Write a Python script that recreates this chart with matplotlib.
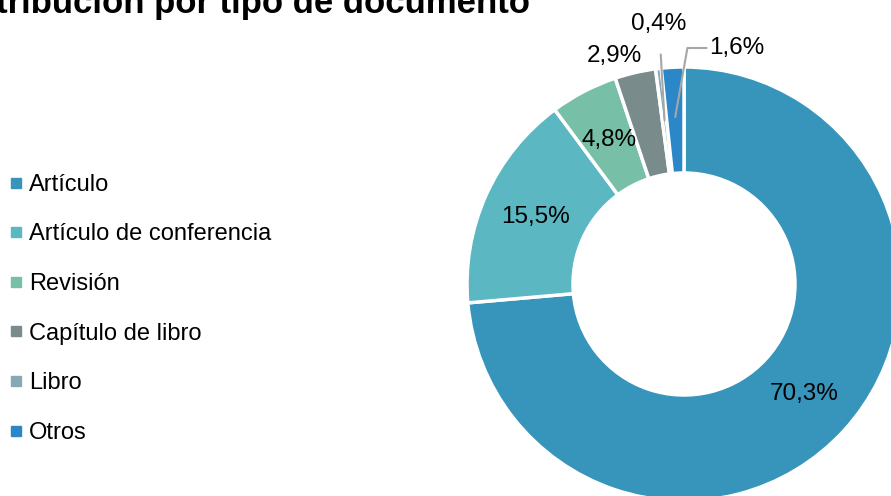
import matplotlib.pyplot as plt
import numpy as np
from matplotlib.lines import Line2D

# Datos
categorias = ['Artículo', 'Artículo de conferencia', 'Revisión',
              'Capítulo de libro', 'Libro', 'Otros']
porcentajes = [70.3, 15.5, 4.8, 2.9, 0.4, 1.6]
etiquetas = ['70,3%', '15,5%', '4,8%', '2,9%', '0,4%', '1,6%']
colores = ['#3795BB', '#5BB7C1', '#77BFA6', '#798B8B', '#87A9B5', '#2B87C8']

plt.rcParams['font.family'] = ['Liberation Sans', 'DejaVu Sans']

fig = plt.figure(figsize=(8.91, 4.96), dpi=100)
ax = fig.add_axes([0, 0, 1, 1])

cx, cy, R, ancho = 684, 212, 217, 106
wedges, _ = ax.pie(porcentajes, colors=colores, startangle=90, counterclock=False,
                   center=(cx, cy), radius=R, frame=True,
                   wedgeprops=dict(width=ancho, edgecolor='white', linewidth=2.5))
ax.set_xlim(0, 891)
ax.set_ylim(0, 496)
ax.set_aspect('equal')
ax.axis('off')

# 1. Etiquetas dentro del anillo
for w, txt in zip(wedges[:3], etiquetas[:3]):
    ang = np.deg2rad((w.theta1 + w.theta2) / 2)
    ax.text(cx + 0.75 * R * np.cos(ang), cy + 0.75 * R * np.sin(ang), txt,
            ha='center', va='center', fontsize=17.5)

# 2. Etiquetas fuera del anillo
w = wedges[3]
ang = np.deg2rad((w.theta1 + w.theta2) / 2 + 4)
ax.text(cx + 1.1 * R * np.cos(ang), cy + 1.1 * R * np.sin(ang), etiquetas[3],
        ha='center', va='center', fontsize=17.5)

gris = '#A6A6A6'
w = wedges[4]
ang = np.deg2rad((w.theta1 + w.theta2) / 2)
ax.annotate(etiquetas[4], xy=(cx + 0.76 * R * np.cos(ang), cy + 0.76 * R * np.sin(ang)),
            xytext=(cx - 25, cy + 260), ha='center', va='center', fontsize=17.5,
            arrowprops=dict(arrowstyle='-', color=gris, lw=1.5, shrinkA=12, shrinkB=0))

w = wedges[5]
ang = np.deg2rad((w.theta1 + w.theta2) / 2)
ax.annotate(etiquetas[5], xy=(cx + 0.77 * R * np.cos(ang), cy + 0.77 * R * np.sin(ang)),
            xytext=(cx + 53, cy + 236), ha='center', va='center', fontsize=17.5,
            arrowprops=dict(arrowstyle='-', color=gris, lw=1.5, shrinkA=0, shrinkB=0,
                            connectionstyle='angle,angleA=0,angleB=80,rad=0',
                            relpos=(0, 0.5)))

# 3. Leyenda
handles = [Line2D([], [], marker='s', linestyle='none', markersize=7.5,
                  markerfacecolor=c, markeredgecolor=c) for c in colores]
ax.legend(handles, categorias, loc='upper left', bbox_to_anchor=(0.0046, 0.659),
          frameon=False, fontsize=17, labelspacing=1.17, handlelength=0.6,
          handletextpad=0.24, borderaxespad=0, borderpad=0.2)

# 4. Título (recortado en la imagen original)
fig.text(530 / 891, 483.5 / 496, 'Distribución por tipo de documento',
         ha='right', va='baseline', fontsize=25, fontweight='bold')

fig.savefig('out.png', dpi=100)
